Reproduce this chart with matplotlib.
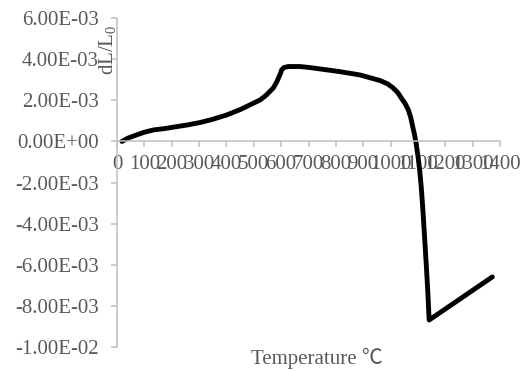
import matplotlib
matplotlib.use("Agg")
import matplotlib.pyplot as plt
from matplotlib.ticker import FuncFormatter

temperature = [18, 40, 72, 100, 133, 175, 218, 260, 303, 350, 401, 450, 498, 523,
               545, 571, 582, 590, 597, 602, 610, 626, 669, 705, 766, 815, 888, 961,
               990, 1010, 1027, 1040, 1053, 1065, 1074, 1081, 1088, 1094, 1100, 1106,
               1112, 1118, 1124, 1130, 1136, 1141, 1372]
dl_l0 = [0, 1.6e-4, 3.2e-4, 4.5e-4, 5.6e-4, 6.3e-4, 7.2e-4, 8.1e-4, 9.2e-4, 1.08e-3,
         1.29e-3, 1.55e-3, 1.86e-3, 2.02e-3, 2.25e-3, 2.6e-3, 2.85e-3, 3.08e-3, 3.3e-3,
         3.49e-3, 3.6e-3, 3.65e-3, 3.65e-3, 3.6e-3, 3.49e-3, 3.4e-3, 3.24e-3, 2.97e-3,
         2.8e-3, 2.6e-3, 2.37e-3, 2.1e-3, 1.85e-3, 1.54e-3, 1.15e-3, 7.2e-4, 3.0e-4,
         -1.5e-4, -7e-4, -1.35e-3, -2.2e-3, -3.3e-3, -4.6e-3, -5.9e-3, -7.3e-3,
         -8.7e-3, -6.6e-3]

x_ticks = list(range(0, 1401, 100))
y_ticks = [-1.0e-2, -8e-3, -6e-3, -4e-3, -2e-3, 0.0, 2e-3, 4e-3, 6e-3]

plt.rcParams['font.family'] = ['Liberation Serif', 'DejaVu Serif']
plt.rcParams['mathtext.fontset'] = 'custom'
plt.rcParams['mathtext.rm'] = 'Liberation Serif'
plt.rcParams['mathtext.it'] = 'Liberation Serif:italic'

gray_txt = '#595959'
gray_ax = '#bfbfbf'

fig = plt.figure(figsize=(5.28, 3.71), dpi=100)
ax = fig.add_axes([117/528, 1-346.7/371, 383/528, (346.7-18.3)/371])

ax.plot(temperature, dl_l0, color='black', lw=3.5, solid_joinstyle='round',
        solid_capstyle='round')

ax.set_xlim(0, 1400)
ax.set_ylim(-1.0e-2, 6e-3)
ax.set_xticks(x_ticks)
ax.set_yticks(y_ticks)

def yfmt(v, pos):
    return '%.2E' % v

ax.yaxis.set_major_formatter(FuncFormatter(yfmt))
ax.set_xticklabels([str(t) for t in x_ticks])

for side in ['top', 'right']:
    ax.spines[side].set_visible(False)
ax.spines['bottom'].set_position(('data', 0))
for side in ['left', 'bottom']:
    ax.spines[side].set_color(gray_ax)
    ax.spines[side].set_linewidth(1.1)

ax.tick_params(axis='y', direction='out', length=4, width=1.1, color=gray_ax,
               labelsize=15, labelcolor=gray_txt, pad=9)
ax.tick_params(axis='x', direction='out', length=4, width=1.1, color=gray_ax,
               labelsize=15, labelcolor=gray_txt, pad=6)

fig.text(108/528, 1-50/371, r'dL/L$_0$', rotation=90, ha='center', va='center',
         fontsize=15, color=gray_txt)
fig.text(317/528, 1-358/371, 'Temperature ℃', ha='center', va='center',
         fontsize=15, color=gray_txt, family=['Liberation Serif', 'Noto Sans CJK SC'])

fig.savefig('out.png', dpi=100)
